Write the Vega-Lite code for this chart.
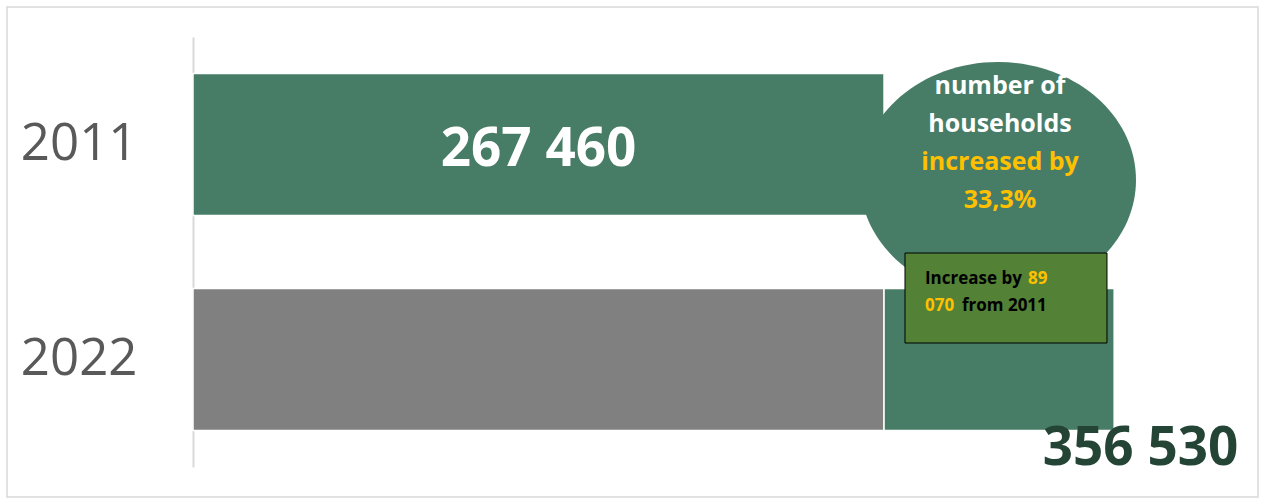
{
  "$schema": "https://vega.github.io/schema/vega-lite/v6.json",
  "width": 1065,
  "height": 430,
  "autosize": "none",
  "padding": {"left": 193, "top": 37, "right": 7, "bottom": 33},
  "background": "#ffffff",
  "config": {"view": {"stroke": null}, "font": "Open Sans"},
  "datasets": {
    "bars": [
      {"year": "2011", "seg": "2011", "start": 0, "end": 267460},
      {"year": "2022", "seg": "base", "start": 0, "end": 267460},
      {"year": "2022", "seg": "increase", "start": 267460, "end": 356530}
    ],
    "barlabel": [{"year": "2011", "mid": 133730, "text": "267 460"}],
    "frame": [{"x": -71989, "x2": 412198, "y": 460, "y2": -30}],
    "bubble": [{"x": 311567, "y": 287}],
    "bubbletext": [
      {"text": "number of", "x": 312341, "y": 373, "role": "main"},
      {"text": "households", "x": 312341, "y": 335, "role": "main"},
      {"text": "increased by", "x": 312341, "y": 297, "role": "highlight"},
      {"text": "33,3%", "x": 312341, "y": 259, "role": "highlight"}
    ],
    "box": [{"x": 275573, "x2": 353755, "y": 214, "y2": 124}],
    "boxtext": [
      {"text": "Increase by", "x": 283313, "y": 183, "role": "dark"},
      {"text": "89", "x": 323178, "y": 183, "role": "highlight"},
      {"text": "070", "x": 283313, "y": 156, "role": "highlight"},
      {"text": "from 2011", "x": 297634, "y": 156, "role": "dark"}
    ],
    "total": [{"text": "356 530", "x": 366720, "y": 2}]
  },
  "resolve": {"scale": {"y": "independent", "color": "independent"}},
  "layer": [
    {
      "data": {"name": "frame"},
      "mark": {"type": "rect", "fill": null, "stroke": "#d9d9d9", "strokeWidth": 1.5},
      "encoding": {
        "x": {"field": "x", "type": "quantitative", "scale": {"domain": [0, 412200], "nice": false}, "axis": null},
        "x2": {"field": "x2"},
        "y": {"field": "y", "type": "quantitative", "scale": {"domain": [0, 430], "nice": false}, "axis": null},
        "y2": {"field": "y2"}
      }
    },
    {
      "data": {"name": "bars"},
      "mark": {"type": "bar", "height": {"band": 0.66}, "stroke": "#ffffff", "strokeWidth": 1.5},
      "encoding": {
        "y": {
          "field": "year", "type": "nominal",
          "scale": {"domain": ["2011", "2022"], "paddingInner": 0, "paddingOuter": 0},
          "axis": {"title": null, "ticks": false, "tickSize": 0, "labelPadding": 56, "labelFontSize": 51, "labelFont": "Open Sans", "labelColor": "#595959", "domainColor": "#d9d9d9", "domainWidth": 2, "labelAlign": "right"}
        },
        "x": {"field": "start", "type": "quantitative", "scale": {"domain": [0, 412200], "nice": false}, "axis": null},
        "x2": {"field": "end"},
        "color": {"field": "seg", "type": "nominal", "scale": {"domain": ["2011", "base", "increase"], "range": ["#477d66", "#808080", "#477d66"]}, "legend": null}
      }
    },
    {
      "data": {"name": "barlabel"},
      "mark": {"type": "text", "font": "Open Sans", "fontWeight": "bold", "fontSize": 53, "color": "#ffffff", "align": "center", "baseline": "middle", "dy": 5},
      "encoding": {
        "y": {"field": "year", "type": "nominal", "scale": {"domain": ["2011", "2022"], "paddingInner": 0, "paddingOuter": 0}, "axis": null},
        "x": {"field": "mid", "type": "quantitative", "scale": {"domain": [0, 412200], "nice": false}, "axis": null},
        "text": {"field": "text"}
      }
    },
    {
      "data": {"name": "bubble"},
      "mark": {"type": "point", "filled": true, "opacity": 1, "color": "#477d66", "strokeWidth": 0, "size": 76176, "shape": "M -1 0 A 1 0.855 0 1 1 1 0 A 1 0.855 0 1 1 -1 0 Z"},
      "encoding": {
        "x": {"field": "x", "type": "quantitative", "scale": {"domain": [0, 412200], "nice": false}, "axis": null},
        "y": {"field": "y", "type": "quantitative", "scale": {"domain": [0, 430], "nice": false}, "axis": null}
      }
    },
    {
      "data": {"name": "bubbletext"},
      "mark": {"type": "text", "font": "Open Sans", "fontWeight": "bold", "fontSize": 25, "align": "center", "baseline": "alphabetic"},
      "encoding": {
        "x": {"field": "x", "type": "quantitative", "scale": {"domain": [0, 412200], "nice": false}, "axis": null},
        "y": {"field": "y", "type": "quantitative", "scale": {"domain": [0, 430], "nice": false}, "axis": null},
        "text": {"field": "text"},
        "color": {"field": "role", "type": "nominal", "scale": {"domain": ["main", "highlight", "dark"], "range": ["#ffffff", "#ffc000", "#000000"]}, "legend": null}
      }
    },
    {
      "data": {"name": "box"},
      "mark": {"type": "rect", "fill": "#538135", "stroke": "#000000", "strokeWidth": 1},
      "encoding": {
        "x": {"field": "x", "type": "quantitative", "scale": {"domain": [0, 412200], "nice": false}, "axis": null},
        "x2": {"field": "x2"},
        "y": {"field": "y", "type": "quantitative", "scale": {"domain": [0, 430], "nice": false}, "axis": null},
        "y2": {"field": "y2"}
      }
    },
    {
      "data": {"name": "boxtext"},
      "mark": {"type": "text", "font": "Open Sans", "fontWeight": "bold", "fontSize": 17, "align": "left", "baseline": "alphabetic"},
      "encoding": {
        "x": {"field": "x", "type": "quantitative", "scale": {"domain": [0, 412200], "nice": false}, "axis": null},
        "y": {"field": "y", "type": "quantitative", "scale": {"domain": [0, 430], "nice": false}, "axis": null},
        "text": {"field": "text"},
        "color": {"field": "role", "type": "nominal", "scale": {"domain": ["main", "highlight", "dark"], "range": ["#ffffff", "#ffc000", "#000000"]}, "legend": null}
      }
    },
    {
      "data": {"name": "total"},
      "mark": {"type": "text", "font": "Open Sans", "fontWeight": "bold", "fontSize": 53, "color": "#244436", "align": "center", "baseline": "alphabetic"},
      "encoding": {
        "x": {"field": "x", "type": "quantitative", "scale": {"domain": [0, 412200], "nice": false}, "axis": null},
        "y": {"field": "y", "type": "quantitative", "scale": {"domain": [0, 430], "nice": false}, "axis": null},
        "text": {"field": "text"}
      }
    }
  ]
}
